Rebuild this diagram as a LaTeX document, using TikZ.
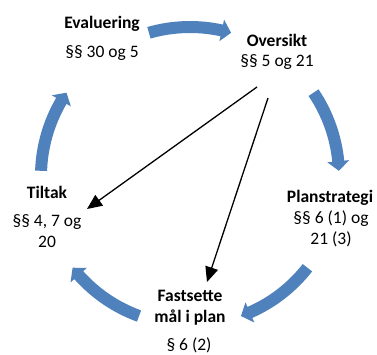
\documentclass[tikz,border=0pt]{standalone}
\usepackage{fontspec}
\setmainfont{Carlito}
\usetikzlibrary{arrows.meta}
\definecolor{cycblue}{RGB}{79,129,189}
\tikzset{
  lbl/.style={anchor=base, inner sep=0pt, align=center, font=\fontsize{17.5}{21}\selectfont},
  ttl/.style={lbl, font=\fontsize{17.5}{20.5}\selectfont\bfseries},
  link/.style={line width=1.3pt, -{Triangle[length=15pt,width=13pt]}},
  cycarrow/.style={fill=cycblue, draw=none}
}
% #1 start angle, #2 end angle (clockwise, #1 > #2)
\newcommand{\cycarr}[2]{%
  \pgfmathsetmacro{\hd}{#2+3.7}%
  \fill[cycblue] (#1:155) arc[start angle=#1, end angle=\hd, radius=155]
    -- (\hd:160) -- (#2:149) -- (\hd:138) -- (\hd:143)
    arc[start angle=\hd, end angle=#1, radius=143] -- cycle;}
\begin{document}
\begin{tikzpicture}[x=1pt,y=1pt]
\useasboundingbox (-190,-178) rectangle (187,176);
% cycle arrows
\cycarr{106}{74}
\cycarr{34}{2}
\cycarr{-38}{-70}
\cycarr{-110}{-142}
\cycarr{178}{146}
% labels
\node[ttl] (evt) at (-88,148) {Evaluering};
\node[lbl] (evd) at (-88,119) {§§ 30 og 5};
\node[ttl] (ovt) at (87,130) {Oversikt};
\node[lbl] (ovd) at (87,110) {§§ 5 og 21};
\node[ttl] (plt) at (140,-26) {Planstrategi};
\node[lbl] (pld) at (141,-68) {§§ 6 (1) og\\21 (3)};
\node[ttl] (fat) at (0,-146) {Fastsette\\mål i plan};
\node[lbl] (fad) at (-1,-174) {§ 6 (2)};
\node[ttl] (tit) at (-143,-22) {Tiltak};
\node[lbl] (tid) at (-143,-71) {§§ 4, 7 og\\20};
% links
\coordinate (s1) at (67,89);
\coordinate (e1) at (-103,-33);
\coordinate (s2) at (78,78);
\coordinate (e2) at (17,-106);
\draw[link] (s1) -- (e1);
\draw[link] (s2) -- (e2);
\end{tikzpicture}
\end{document}
